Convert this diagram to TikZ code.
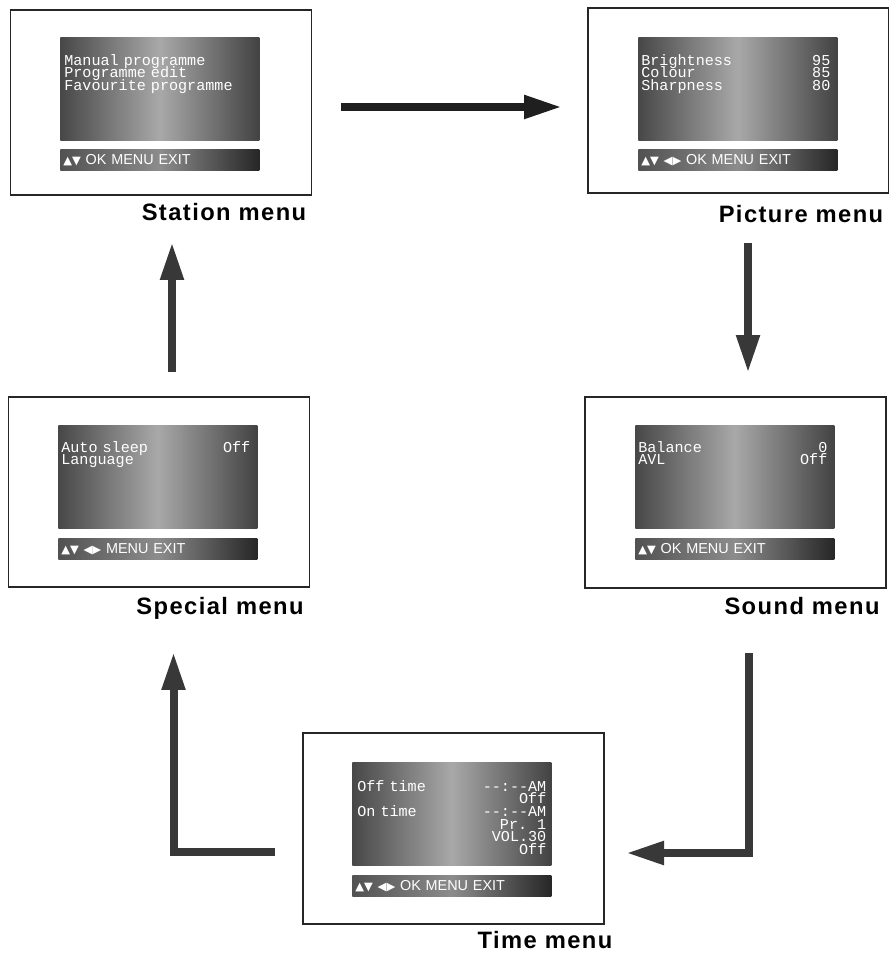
\documentclass[tikz,border=0pt]{standalone}
\usepackage{fontspec}
\setmainfont{Liberation Sans}
\newfontfamily\osdfont{Liberation Mono}
\newfontfamily\keyfont{DejaVu Sans}
\newfontfamily\labelfont[LetterSpace=6]{Liberation Sans Bold}
\usetikzlibrary{arrows.meta, positioning}

\newcommand\osdkeys[1]{{\keyfont\fontsize{6.5}{7}\selectfont #1}}
\newcommand\osdsize{\osdfont\fontsize{8.6}{7.2}\selectfont\lineskiplimit=-5pt\relax}

\tikzset{
  tvframe/.style = {draw=black!85, line width=1.1pt, minimum width=6.02cm, inner sep=0pt},
  osdscreen/.style = {anchor=north west, inner sep=0pt, minimum width=3.98cm, minimum height=2.06cm,
    left color=black!72, right color=black!74, middle color=black!34},
  osdbar/.style = {anchor=north west, inner xsep=0.06cm, inner ysep=0pt, text width=3.86cm,
    minimum height=0.42cm, align=left, text=white, font=\fontsize{8.2}{9}\selectfont,
    left color=black!68, right color=black!85, middle color=black!45},
  osdtext/.style = {anchor=north west, inner sep=0pt, text width=3.78cm, align=left,
    text=white, font=\osdsize},
  menulabel/.style = {anchor=base, inner sep=0pt, font=\labelfont\fontsize{13.5}{16}\selectfont},
  flow/.style = {line width=0.16cm, draw=black!78, line join=miter,
    -{Triangle[length=0.76cm, width=0.44cm]}}
}

\begin{document}
\begin{tikzpicture}[x=0.02cm, y=-0.02cm]
\useasboundingbox (0,0) rectangle (889,955);

% frames
\node[tvframe, minimum height=3.70cm] (station) at (161,102.5) {};
\node[tvframe, minimum height=3.70cm] (picture) at (738,100.5) {};
\node[tvframe, minimum height=3.80cm] (special) at (159,492) {};
\node[tvframe, minimum height=3.82cm] (sound) at (735.5,492.5) {};
\node[tvframe, minimum height=3.82cm] (time) at (453.5,828.5) {};

% screens
\node[osdscreen] (stationscr) at (60,37) {};
\node[osdscreen] (picturescr) at (638,37) {};
\node[osdscreen] (specialscr) at (58,425) {};
\node[osdscreen] (soundscr) at (635,425) {};
\node[osdscreen] (timescr) at (352,762) {};

% key bars
\node[osdbar] (stationbar) at (60,149) {\osdkeys{▲▼} OK MENU EXIT};
\node[osdbar] (picturebar) at (638,149) {\osdkeys{▲▼ ◀▶} OK MENU EXIT};
\node[osdbar] (specialbar) at (58,538) {\osdkeys{▲▼ ◀▶} MENU EXIT};
\node[osdbar] (soundbar) at (635,538) {\osdkeys{▲▼} OK MENU EXIT};
\node[osdbar] (timebar) at (352,875) {\osdkeys{▲▼ ◀▶} OK MENU EXIT};

% menu items
\node[osdtext] (stationtxt) at ([shift={(4,17)}]stationscr.north west)
  {Manual programme\\Programme edit\\Favourite programme};
\node[osdtext] (picturetxt) at ([shift={(3,17)}]picturescr.north west)
  {Brightness\hfill 95\\Colour\hfill 85\\Sharpness\hfill 80};
\node[osdtext] (specialtxt) at ([shift={(3,16)}]specialscr.north west)
  {Auto sleep\hfill Off\\Language};
\node[osdtext] (soundtxt) at ([shift={(3,16)}]soundscr.north west)
  {Balance\hfill 0\\AVL\hfill Off};
\node[osdtext] (timetxt) at ([shift={(5,18)}]timescr.north west)
  {Off time\hfill -{}-:-{}-AM\\\hspace*{\fill}Off\\On time\hfill -{}-:-{}-AM\\
   \hspace*{\fill}Pr.\ \ 1\\\hspace*{\fill}VOL.30\\\hspace*{\fill}Off};

% labels
\node[menulabel] (stationlbl) at (224,221) {Station menu};
\node[menulabel] (picturelbl) at (801,223) {Picture menu};
\node[menulabel] (speciallbl) at (220,614) {Special menu};
\node[menulabel] (soundlbl) at (802,614) {Sound menu};
\node[menulabel] (timelbl) at (545,948) {Time menu};

% arrow ends
\coordinate (a1) at (341,107);
\coordinate (a2) at (562,107);
\coordinate (b1) at (748,243);
\coordinate (b2) at (748,373);
\coordinate (c1) at (749,653);
\coordinate (c2) at (626,853);
\coordinate (d1) at (275,852);
\coordinate (d2) at (173.5,652);
\coordinate (e1) at (172,372);
\coordinate (e2) at (172,242);

\draw[flow, draw=black!88] (a1) -- (a2);
\draw[flow] (b1) -- (b2);
\draw[flow] (c1) |- (c2);
\draw[flow] (d1) -| (d2);
\draw[flow] (e1) -- (e2);
\end{tikzpicture}
\end{document}
